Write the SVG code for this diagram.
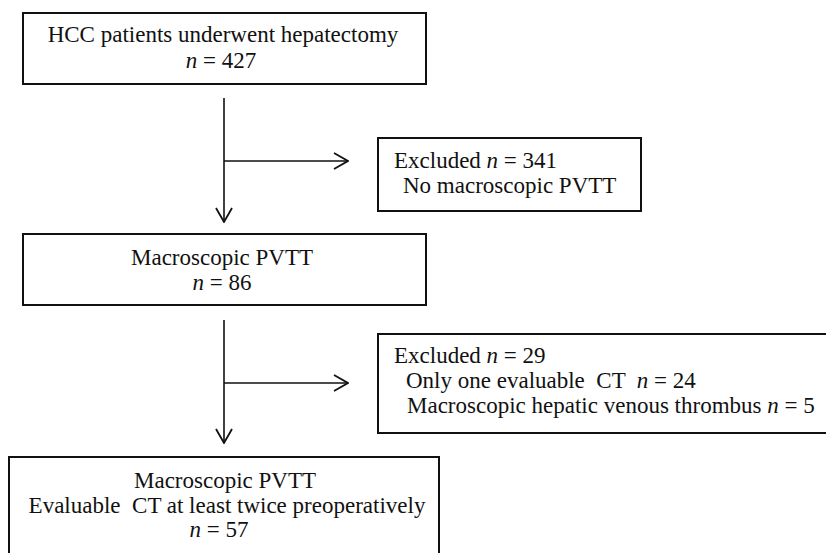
<svg xmlns="http://www.w3.org/2000/svg" width="826" height="553" viewBox="0 0 826 553">
<style>
.box{fill:#fff;stroke:#111;stroke-width:2}
.ln{fill:none;stroke:#111;stroke-width:1.6}
text{font-family:"Liberation Serif","Times New Roman",serif;font-size:23px;fill:#111}
.c{text-anchor:middle}
.i{font-style:italic}
</style>
<defs>
<marker id="chev" viewBox="0 0 16 18" refX="15" refY="9" markerWidth="16" markerHeight="18" markerUnits="userSpaceOnUse" orient="auto">
<path d="M1,1 L15,9 L1,17" fill="none" stroke="#111" stroke-width="1.8"/>
</marker>
</defs>
<rect width="826" height="553" fill="#fff"/>
<g id="connectors">
<line class="ln" x1="224" y1="98" x2="224" y2="222" marker-end="url(#chev)"/>
<line class="ln" x1="224" y1="161" x2="348" y2="161" marker-end="url(#chev)"/>
<line class="ln" x1="224" y1="320" x2="224" y2="443" marker-end="url(#chev)"/>
<line class="ln" x1="224" y1="383" x2="348" y2="383" marker-end="url(#chev)"/>
</g>
<g id="n1">
<rect class="box" x="23" y="13" width="403" height="71"/>
<text class="c" x="223" y="42">HCC patients underwent hepatectomy</text>
<text class="c" x="221" y="68"><tspan class="i">n</tspan> = 427</text>
</g>
<g id="n2">
<rect class="box" x="378" y="138" width="263" height="73"/>
<text x="394" y="168">Excluded <tspan class="i">n</tspan> = 341</text>
<text x="403" y="193">No macroscopic PVTT</text>
</g>
<g id="n3">
<rect class="box" x="23" y="234" width="403" height="71"/>
<text class="c" x="222" y="265">Macroscopic PVTT</text>
<text class="c" x="222" y="290"><tspan class="i">n</tspan> = 86</text>
</g>
<g id="n4">
<rect class="box" x="378" y="334" width="460" height="99"/>
<text x="394" y="363">Excluded <tspan class="i">n</tspan> = 29</text>
<text x="406" y="388" xml:space="preserve">Only one evaluable  CT  <tspan class="i">n</tspan> = 24</text>
<text x="407" y="413">Macroscopic hepatic venous thrombus <tspan class="i">n</tspan> = 5</text>
</g>
<g id="n5">
<rect class="box" x="9" y="457" width="430" height="110"/>
<text class="c" x="225" y="488">Macroscopic PVTT</text>
<text class="c" x="227" y="513" xml:space="preserve">Evaluable  CT at least twice preoperatively</text>
<text class="c" x="219" y="537"><tspan class="i">n</tspan> = 57</text>
</g>
</svg>
